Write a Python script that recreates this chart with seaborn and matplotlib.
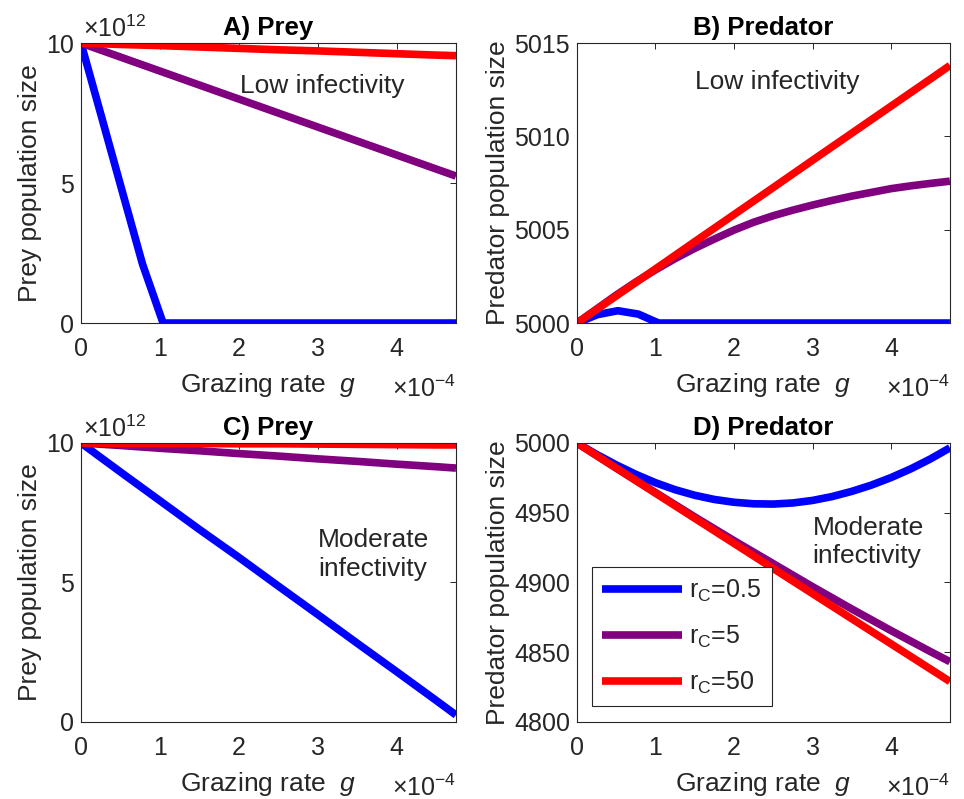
import matplotlib
matplotlib.use('Agg')
import matplotlib.pyplot as plt
import seaborn as sns

# grazing rate g in units of 1e-4
g_fine = [0, 0.5, 1, 1.5, 2, 2.5, 3, 3.5, 4, 4.5, 4.75]
g_quarter = [0, 0.25, 0.5, 0.75, 1, 1.25, 1.5, 1.75, 2, 2.25, 2.5,
             2.75, 3, 3.25, 3.5, 3.75, 4, 4.25, 4.5, 4.75]
g_blue_low = [0, 0.26, 0.52, 0.78, 1.04, 4.75]

labels = ['r$_{\\rm C}$=0.5', 'r$_{\\rm C}$=5', 'r$_{\\rm C}$=50']
colors = ['#0000ff', '#800080', '#ff0000']

# A) prey, low infectivity (x 1e12)
prey_low_blue = [10, 7.37, 4.73, 2.1, 0, 0]
prey_low_purple = [10, 9.5, 9.0, 8.5, 8.0, 7.5, 7.0, 6.5, 6.0, 5.5, 5.25]
prey_low_red = [10, 9.95, 9.91, 9.86, 9.81, 9.76, 9.72, 9.67, 9.62, 9.57, 9.55]

# B) predator, low infectivity
pred_low_blue = [5000, 5000.45, 5000.66, 5000.48, 5000, 5000]
pred_low_purple = [5000, 5000.75, 5001.5, 5002.2, 5002.85, 5003.45, 5004.0, 5004.5, 5004.98, 5005.4,
                   5005.75, 5006.05, 5006.32, 5006.57, 5006.8, 5007.0, 5007.2, 5007.35, 5007.48, 5007.6]
pred_low_red = [5000, 5001.45, 5002.9, 5004.36, 5005.81, 5007.26, 5008.72, 5010.17, 5011.62, 5013.07, 5013.8]

# C) prey, moderate infectivity (x 1e12)
prey_mod_blue = [10, 8.96, 7.93, 6.9, 5.9, 4.87, 3.85, 2.82, 1.8, 0.77, 0.25]
prey_mod_purple = [10, 9.91, 9.81, 9.72, 9.62, 9.53, 9.43, 9.34, 9.24, 9.15, 9.1]
prey_mod_red = [10, 9.99, 9.99, 9.98, 9.97, 9.97, 9.96, 9.95, 9.94, 9.93, 9.93]

# D) predator, moderate infectivity
pred_mod_blue = [5000, 4991.8, 4984.3, 4977.5, 4971.5, 4966.5, 4962.5, 4959.5, 4957.5, 4956.4,
                 4956.2, 4957, 4958.8, 4961.6, 4965.3, 4969.8, 4975.2, 4981.4, 4988.5, 4996.5]
pred_mod_purple = [5000, 4982, 4964.5, 4947, 4930, 4913.5, 4897, 4881, 4865.5, 4850.5, 4843.2]
pred_mod_red = [5000, 4982, 4964, 4946, 4928, 4910, 4892, 4874, 4856, 4838, 4829]

sns.set_style('white')
plt.rcParams['font.family'] = ['Liberation Sans', 'DejaVu Sans']
plt.rcParams['mathtext.fontset'] = 'custom'
plt.rcParams['mathtext.rm'] = 'Liberation Sans'
plt.rcParams['mathtext.it'] = 'Liberation Sans:italic'

FS_TICK = 18
FS_LAB = 19
FS_TITLE = 18.5
DARK = '#262626'
LW = 5.5

fig = plt.figure(figsize=(9.64, 7.99), dpi=100)
positions = [
    [0.0840, 0.5957, 0.3890, 0.3504],
    [0.5985, 0.5957, 0.3869, 0.3504],
    [0.0840, 0.0964, 0.3890, 0.3492],
    [0.5985, 0.0964, 0.3869, 0.3492],
]
axes = [fig.add_axes(p) for p in positions]

panels = [
    ('A) Prey', 'Prey population size', [g_blue_low, g_fine, g_fine],
     [prey_low_blue, prey_low_purple, prey_low_red], (0, 10), [0, 5, 10], True),
    ('B) Predator', 'Predator population size', [g_blue_low, g_quarter, g_fine],
     [pred_low_blue, pred_low_purple, pred_low_red], (5000, 5015), [5000, 5005, 5010, 5015], False),
    ('C) Prey', 'Prey population size', [g_fine, g_fine, g_fine],
     [prey_mod_blue, prey_mod_purple, prey_mod_red], (0, 10), [0, 5, 10], True),
    ('D) Predator', 'Predator population size', [g_quarter, g_fine, g_fine],
     [pred_mod_blue, pred_mod_purple, pred_mod_red], (4800, 5000), [4800, 4850, 4900, 4950, 5000], False),
]

for ax, (title, ylab, xs, ys, ylim, yticks, sci12) in zip(axes, panels):
    for x, y, c, lab in zip(xs, ys, colors, labels):
        sns.lineplot(x=x, y=y, color=c, linewidth=LW, label=lab, ax=ax,
                     sort=False, solid_capstyle='butt')
    ax.set_xlim(0, 4.75)
    ax.set_ylim(*ylim)
    ax.set_xticks([0, 1, 2, 3, 4])
    ax.set_yticks(yticks)
    ax.tick_params(direction='in', top=True, right=True, length=4, width=0.7,
                   colors=DARK, labelsize=FS_TICK)
    ax.tick_params(axis='x', pad=10)
    ax.tick_params(axis='y', pad=5)
    for s in ax.spines.values():
        s.set_color(DARK)
        s.set_linewidth(0.8)
    ax.set_title(title, fontsize=FS_TITLE, fontweight='bold', color='black', pad=6)
    ax.set_ylabel(ylab, fontsize=FS_LAB, color=DARK, labelpad=3)
    ax.set_xlabel('Grazing rate  $\\it{g}$', fontsize=FS_LAB, color=DARK, labelpad=7)
    ax.text(1.0, -0.265, '$\\times10^{-4}$', transform=ax.transAxes, ha='right',
            va='baseline', fontsize=FS_TICK, color=DARK)
    if sci12:
        ax.text(0.005, 1.022, '$\\times10^{12}$', transform=ax.transAxes, ha='left',
                va='baseline', fontsize=FS_TICK, color=DARK)
    if ax.get_legend() is not None:
        ax.get_legend().remove()

axes[0].text(3.05, 8.46, 'Low infectivity', ha='center', va='center', fontsize=FS_LAB)
axes[1].text(2.55, 5012.9, 'Low infectivity', ha='center', va='center', fontsize=FS_LAB)
axes[2].text(3.0, 6.0, 'Moderate\ninfectivity', ha='left', va='center', fontsize=FS_LAB,
             linespacing=1.25)
axes[3].text(3.0, 4929, 'Moderate\ninfectivity', ha='left', va='center', fontsize=FS_LAB,
             linespacing=1.25)

handles, labs = axes[3].get_legend_handles_labels()
leg = axes[3].legend(handles, labs, loc='lower left', bbox_to_anchor=(0.04, 0.057),
                     borderaxespad=0, fontsize=18, handlelength=3.2, handletextpad=0.3,
                     labelspacing=0.8, fancybox=False, framealpha=1, edgecolor=DARK,
                     borderpad=0.4)
leg.get_frame().set_linewidth(0.8)

fig.savefig('out.png', dpi=100, facecolor='white')
